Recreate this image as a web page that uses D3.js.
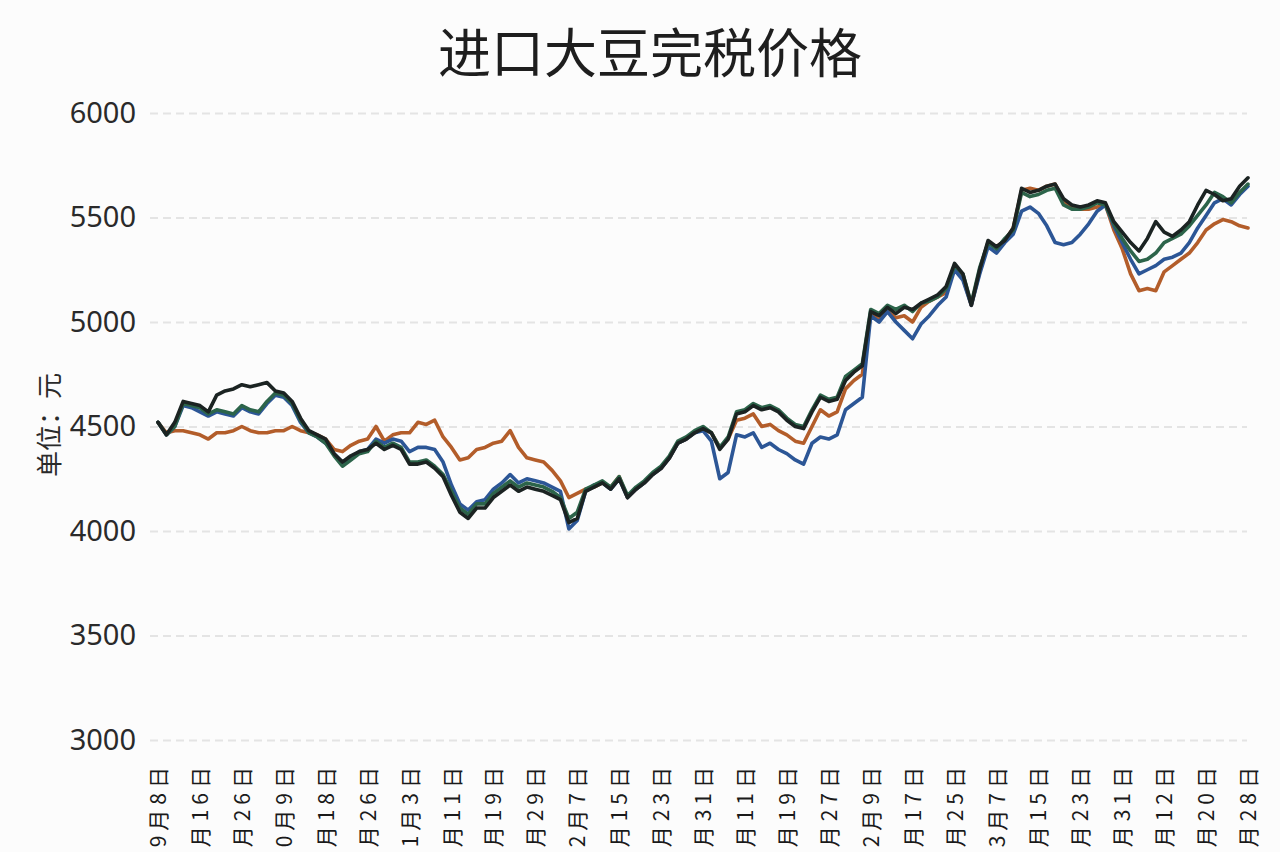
<!DOCTYPE html>
<html>
<head>
<meta charset="utf-8">
<script src="https://cdn.jsdelivr.net/npm/d3@7/dist/d3.min.js"></script>
<style>
  html, body { margin: 0; padding: 0; background: #fcfcfc; }
  svg { display: block; }
</style>
</head>
<body>
<svg id="chart" width="1280" height="852"></svg>
<script>
const title = "进口大豆完税价格";
const yAxisTitle = "单位：元";
const yTicks = [3000, 3500, 4000, 4500, 5000, 5500, 6000];
const tickLabels = ["9月8日","9月16日","9月26日","10月9日","10月18日","10月26日","11月3日","11月11日","11月19日","11月29日","12月7日","12月15日","12月23日","12月31日","1月11日","1月19日","1月27日","2月9日","2月17日","2月25日","3月7日","3月15日","3月23日","3月31日","4月12日","4月20日","4月28日"];
const labelEvery = 5;

const seriesOrange = [
4520,4470,4480,4480,4470,4460,4440,4470,4470,4480,
4500,4480,4470,4470,4480,4480,4500,4480,4470,
4460,4440,4390,4380,4410,4430,4440,4500,4430,4460,
4470,4470,4520,4510,4530,4450,4400,4340,4350,4390,
4400,4420,4430,4480,4400,4350,4340,4330,4290,4240,
4160,4180,4200,4210,4230,4210,4260,4160,4200,
4230,4270,4300,4350,4420,4440,4470,4490,4470,4400,
4440,4530,4540,4560,4500,4510,4480,4460,4430,4420,
4500,4580,4550,4570,4680,4720,4750,5040,5010,
5050,5020,5030,5000,5070,5100,5120,5140,5260,5210,
5080,5240,5380,5360,5390,5450,5630,5640,5630,5650,
5660,5580,5550,5540,5540,5550,5560,5440,5350,
5230,5150,5160,5150,5240,5270,5300,5330,5380,5440,
5470,5490,5480,5460,5450];

const seriesBlue = [
4520,4460,4500,4600,4590,4570,4550,4570,4560,4550,
4590,4570,4560,4610,4650,4640,4600,4520,4470,
4450,4420,4370,4330,4350,4380,4390,4440,4420,4440,
4430,4380,4400,4400,4390,4330,4220,4130,4100,4140,
4150,4200,4230,4270,4230,4250,4240,4230,4210,4190,
4010,4050,4190,4220,4230,4200,4250,4160,4200,
4230,4270,4300,4350,4420,4440,4470,4480,4430,4250,
4280,4460,4450,4470,4400,4420,4390,4370,4340,4320,
4420,4450,4440,4460,4580,4610,4640,5030,5000,
5050,5000,4960,4920,4990,5030,5080,5120,5250,5200,
5080,5230,5360,5330,5380,5420,5530,5550,5520,5460,
5380,5370,5380,5420,5470,5530,5560,5460,5380,
5300,5230,5250,5270,5300,5310,5330,5380,5450,5510,
5570,5590,5560,5610,5650];

const seriesGreen = [
4520,4460,4500,4610,4600,4590,4560,4580,4570,4560,
4600,4580,4570,4620,4660,4650,4610,4530,4470,
4450,4420,4360,4310,4340,4370,4380,4430,4400,4420,
4400,4330,4330,4340,4310,4270,4190,4110,4080,4130,
4130,4180,4210,4240,4210,4230,4220,4210,4190,4160,
4060,4090,4200,4220,4240,4210,4260,4170,4210,
4240,4280,4310,4360,4430,4450,4480,4500,4470,4400,
4450,4570,4580,4610,4590,4600,4580,4540,4510,4500,
4580,4650,4630,4640,4740,4770,4800,5060,5040,
5080,5060,5080,5050,5090,5100,5120,5160,5270,5230,
5090,5260,5380,5350,5400,5440,5620,5600,5610,5630,
5640,5560,5540,5540,5550,5570,5560,5470,5400,
5340,5290,5300,5330,5380,5400,5420,5460,5510,5560,
5620,5600,5570,5620,5660];

const seriesDark = [
4520,4460,4520,4620,4610,4600,4570,4650,4670,4680,
4700,4690,4700,4710,4670,4660,4620,4540,4480,
4460,4440,4370,4330,4360,4380,4390,4420,4390,4410,
4390,4320,4320,4330,4300,4260,4170,4090,4060,4110,
4110,4160,4190,4220,4190,4210,4200,4190,4170,4150,
4040,4060,4190,4210,4230,4200,4250,4160,4200,
4230,4270,4300,4350,4420,4440,4470,4490,4470,4390,
4440,4560,4570,4600,4580,4590,4570,4530,4500,4490,
4570,4640,4620,4630,4720,4760,4790,5050,5030,
5070,5040,5070,5060,5090,5110,5130,5170,5280,5230,
5080,5250,5390,5360,5390,5450,5640,5620,5630,5650,
5660,5590,5560,5550,5560,5580,5570,5480,5430,
5380,5340,5400,5480,5430,5410,5440,5480,5560,5630,
5610,5580,5590,5650,5690];

const series = [
  { name: "orange", values: seriesOrange, color: "#b35d2a" },
  { name: "blue", values: seriesBlue, color: "#2c5696" },
  { name: "green", values: seriesGreen, color: "#2c644a" },
  { name: "dark", values: seriesDark, color: "#1b2322" }
];

const svg = d3.select("#chart");
const n = seriesDark.length;

const x = d3.scaleLinear().domain([0, n - 1]).range([158, 1248]);
const y = d3.scaleLinear().domain([3000, 6000]).range([740, 113]);

// title
svg.append("text")
  .attr("x", 650).attr("y", 50)
  .attr("text-anchor", "middle")
  .attr("dominant-baseline", "central")
  .style("font-family", "'Noto Sans CJK SC', sans-serif")
  .style("font-size", "53px")
  .style("fill", "#1e1e1e")
  .text(title);

// y axis with gridlines
const yAxis = d3.axisLeft(y)
  .tickValues(yTicks)
  .tickFormat(d3.format("d"))
  .tickSizeInner(-1097)
  .tickSizeOuter(0)
  .tickPadding(14);

const gy = svg.append("g").attr("transform", "translate(150,0)").call(yAxis);
gy.select(".domain").remove();
gy.selectAll(".tick line")
  .attr("stroke", "#e4e4e4")
  .attr("stroke-width", 2)
  .attr("stroke-dasharray", "8,5");
gy.selectAll(".tick text")
  .style("font-family", "'Noto Sans', sans-serif")
  .style("font-size", "29px")
  .style("fill", "#2a2a2a");

// y axis title
svg.append("text")
  .attr("transform", "translate(47,425) rotate(-90)")
  .attr("text-anchor", "middle")
  .attr("dominant-baseline", "central")
  .style("font-family", "'Noto Sans CJK SC', sans-serif")
  .style("font-size", "26px")
  .style("fill", "#2a2a2a")
  .text(yAxisTitle);

// x axis labels
const tickIdx = d3.range(0, n, labelEvery);
const xAxis = d3.axisBottom(x)
  .tickValues(tickIdx)
  .tickFormat((d, i) => tickLabels[i])
  .tickSize(0);
const gx = svg.append("g").attr("transform", "translate(0,762)").call(xAxis);
gx.select(".domain").remove();
gx.selectAll(".tick text")
  .attr("transform", "rotate(-90)")
  .attr("x", 0).attr("y", 0).attr("dy", "0.36em")
  .attr("text-anchor", "end")
  .style("font-family", "'Noto Sans CJK SC', sans-serif")
  .style("font-size", "21px")
  .style("letter-spacing", "5px")
  .style("fill", "#1a1a1a");

// lines
const line = d3.line()
  .x((d, i) => x(i))
  .y(d => y(d));

svg.append("g").selectAll("path")
  .data(series)
  .join("path")
  .attr("d", s => line(s.values))
  .attr("fill", "none")
  .attr("stroke", s => s.color)
  .attr("stroke-width", 3.6)
  .attr("stroke-linejoin", "round")
  .attr("stroke-linecap", "round");
</script>
</body>
</html>
